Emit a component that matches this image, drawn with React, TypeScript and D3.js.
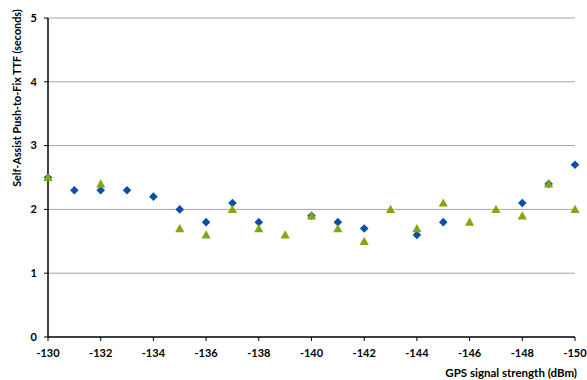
import React from "react";
import * as d3 from "d3";

const xValues = [-130, -131, -132, -133, -134, -135, -136, -137, -138, -139, -140, -141, -142, -143, -144, -145, -146, -147, -148, -149, -150];
const blueSeries: (number | null)[] = [2.5, 2.3, 2.3, 2.3, 2.2, 2.0, 1.8, 2.1, 1.8, null, 1.9, 1.8, 1.7, null, 1.6, 1.8, null, null, 2.1, 2.4, 2.7];
const greenSeries: (number | null)[] = [2.5, null, 2.4, null, null, 1.7, 1.6, 2.0, 1.7, 1.6, 1.9, 1.7, 1.5, 2.0, 1.7, 2.1, 1.8, 2.0, 1.9, 2.4, 2.0];
const xTicks = [-130, -132, -134, -136, -138, -140, -142, -144, -146, -148, -150];
const yTicks = [0, 1, 2, 3, 4, 5];

export default function App() {
  const W = 587, H = 380;
  const left = 48, right = 575, top = 18, bottom = 337;
  const x = d3.scaleLinear().domain([-130, -150]).range([left, right]);
  const y = d3.scaleLinear().domain([0, 5]).range([bottom, top]);
  const font = "Lato, 'Liberation Sans', sans-serif";
  const diamond = "M0,-4.3L4.3,0L0,4.3L-4.3,0Z";
  const tri = "M0,-4.6L4.6,3.6L-4.6,3.6Z";

  return (
    <svg width={W} height={H} style={{ position: "absolute", left: 0, top: 0 }}>
      <rect width={W} height={H} fill="#fff" />
      {yTicks.filter(t => t > 0).map(t => (
        <line key={t} x1={left} x2={right} y1={y(t)} y2={y(t)} stroke="#a6a6a6" strokeWidth={1} />
      ))}
      <line x1={left} x2={left} y1={top} y2={bottom} stroke="#000" strokeWidth={1.5} />
      <line x1={left} x2={right} y1={bottom} y2={bottom} stroke="#000" strokeWidth={1.5} />
      {yTicks.map(t => (
        <g key={t}>
          <line x1={left - 4} x2={left} y1={y(t)} y2={y(t)} stroke="#000" />
          <text x={37} y={y(t)} dy="0.35em" textAnchor="end" fontFamily={font} fontWeight="bold" fontSize={11}>{t}</text>
        </g>
      ))}
      {xTicks.map(t => (
        <g key={t}>
          <line x1={x(t)} x2={x(t)} y1={bottom} y2={bottom + 4} stroke="#000" />
          <text x={x(t)} y={357} textAnchor="middle" fontFamily={font} fontWeight="bold" fontSize={11}>{t}</text>
        </g>
      ))}
      {xValues.map((v, i) => blueSeries[i] == null ? null : (
        <path key={"b" + i} d={diamond} transform={`translate(${x(v)},${y(blueSeries[i] as number)})`} fill="#0d4ea6" />
      ))}
      {xValues.map((v, i) => greenSeries[i] == null ? null : (
        <path key={"g" + i} d={tri} transform={`translate(${x(v)},${y(greenSeries[i] as number)})`} fill="#83a80f" />
      ))}
      <text x={577} y={377} textAnchor="end" fontFamily={font} fontWeight="bold" fontSize={11.5}>GPS signal strength (dBm)</text>
      <text transform={`translate(21,98) rotate(-90)`} textAnchor="middle" fontFamily={font} fontWeight="bold" fontSize={10.8}>Self-Assist Push-to-Fix TTF (seconds)</text>
    </svg>
  );
}
